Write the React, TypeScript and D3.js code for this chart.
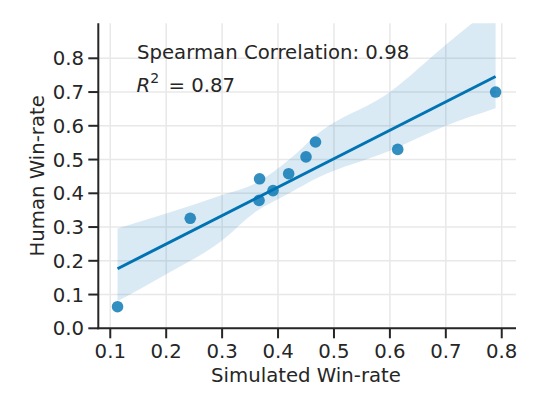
import React from "react";
import * as d3 from "d3";

// values
const simWinRate = [0.113, 0.243, 0.367, 0.366, 0.391, 0.419, 0.45, 0.467, 0.614, 0.789];
const humanWinRate = [0.064, 0.326, 0.443, 0.379, 0.408, 0.458, 0.508, 0.552, 0.53, 0.7];

// bootstrap confidence band edges
const bandX = [0.113, 0.2, 0.3, 0.36, 0.42, 0.47, 0.6, 0.7, 0.789];
const bandUpper = [0.296, 0.34, 0.395, 0.43, 0.5, 0.575, 0.7, 0.84, 0.96];
const bandLower = [0.08, 0.16, 0.26, 0.345, 0.4, 0.445, 0.526, 0.6, 0.652];

const xTicks = [0.1, 0.2, 0.3, 0.4, 0.5, 0.6, 0.7, 0.8];
const yTicks = [0.0, 0.1, 0.2, 0.3, 0.4, 0.5, 0.6, 0.7, 0.8];

const spearmanText = "Spearman Correlation: 0.98";
const r2Value = "0.87";

const W = 560;
const H = 394;
const FONT = "'DejaVu Sans', sans-serif";
const INK = "#262626";
const BLUE = "#0173b2";

const App = () => {
  const left = 98.3;
  const right = 516;
  const top = 23.3;
  const bottom = 328.3;

  const x = d3.scaleLinear().domain([0.0786, 0.8255]).range([left, right]);
  const y = d3.scaleLinear().domain([0, 0.9037]).range([bottom, top]);

  // least squares fit
  const mx = d3.mean(simWinRate) as number;
  const my = d3.mean(humanWinRate) as number;
  const sxy = d3.sum(simWinRate, (v, i) => (v - mx) * (humanWinRate[i] - my));
  const sxx = d3.sum(simWinRate, (v) => (v - mx) ** 2);
  const slope = sxy / sxx;
  const intercept = my - slope * mx;
  const [x0, x1] = d3.extent(simWinRate) as [number, number];

  const fitLine = d3
    .line<number>()
    .x((d) => x(d))
    .y((d) => y(intercept + slope * d));

  const band = d3
    .area<number>()
    .curve(d3.curveMonotoneX)
    .x((d) => x(d))
    .y0((_, i) => y(bandLower[i]))
    .y1((_, i) => y(bandUpper[i]));

  const fmt = d3.format(".1f");

  return (
    <div style={{ position: "absolute", left: 0, top: 0 }}>
      <svg width={W} height={H} style={{ display: "block", background: "#fff" }}>
        <defs>
          <clipPath id="plot-area">
            <rect x={left} y={top} width={right - left} height={bottom - top} />
          </clipPath>
        </defs>

        {/* grid */}
        <g stroke="#e8e8e8" strokeWidth={1.5}>
          {xTicks.map((t) => (
            <line key={"gx" + t} x1={x(t)} x2={x(t)} y1={top} y2={bottom} />
          ))}
          {yTicks.map((t) => (
            <line key={"gy" + t} x1={left} x2={right} y1={y(t)} y2={y(t)} />
          ))}
        </g>

        <g clipPath="url(#plot-area)">
          <path d={band(bandX) || ""} fill={BLUE} fillOpacity={0.15} />
          <path
            d={fitLine([x0, x1]) || ""}
            fill="none"
            stroke={BLUE}
            strokeWidth={3}
          />
          {simWinRate.map((v, i) => (
            <circle
              key={i}
              cx={x(v)}
              cy={y(humanWinRate[i])}
              r={5.8}
              fill={BLUE}
              fillOpacity={0.8}
            />
          ))}
        </g>

        {/* spines and ticks */}
        <g stroke={INK} strokeWidth={2}>
          <line x1={left} x2={left} y1={top} y2={bottom + 1} />
          <line x1={left - 1} x2={right} y1={bottom} y2={bottom} />
          {xTicks.map((t) => (
            <line key={"tx" + t} x1={x(t)} x2={x(t)} y1={bottom} y2={bottom + 10} />
          ))}
          {yTicks.map((t) => (
            <line key={"ty" + t} x1={left - 10} x2={left} y1={y(t)} y2={y(t)} />
          ))}
        </g>

        <g fontFamily={FONT} fontSize={19.7} fill={INK}>
          {xTicks.map((t) => (
            <text key={"lx" + t} x={x(t)} y={357.7} textAnchor="middle">
              {fmt(t)}
            </text>
          ))}
          {yTicks.map((t) => (
            <text key={"ly" + t} x={84} y={y(t)} dy="0.36em" textAnchor="end">
              {fmt(t)}
            </text>
          ))}
          <text x={306} y={381.7} textAnchor="middle">
            Simulated Win-rate
          </text>
          <text
            transform={`translate(43.5, ${(top + bottom) / 2}) rotate(-90)`}
            textAnchor="middle"
          >
            Human Win-rate
          </text>

          {/* annotations */}
          <text x={137} y={59}>
            {spearmanText}
          </text>
          <text x={136.5} y={91.7} fontStyle="italic">
            R
          </text>
          <text x={150.3} y={83.3} fontSize={14}>
            2
          </text>
          <text x={168.5} y={91.7}>
            = {r2Value}
          </text>
        </g>
      </svg>
    </div>
  );
};

export default App;
